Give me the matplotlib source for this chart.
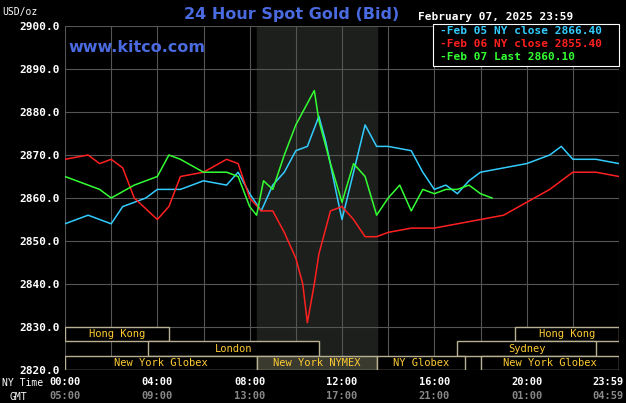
import matplotlib
matplotlib.use('Agg')
import matplotlib.pyplot as plt
from matplotlib.patches import Rectangle

# hours since 00:00 NY time, price
blue_t = [0,1,2,2.5,3.5,4,5,6,7,7.5,8,8.5,9,9.5,10,10.5,11,11.3,11.8,12,12.5,13,13.5,14,15,15.5,16,16.5,17,17.5,18,19,20,21,21.5,22,23,24]
blue_v = [2854,2856,2854,2858,2860,2862,2862,2864,2863,2866,2861,2857,2863,2866,2871,2872,2879,2873,2860,2855,2866,2877,2872,2872,2871,2866,2862,2863,2861,2864,2866,2867,2868,2870,2872,2869,2869,2868]
red_t = [0,1,1.5,2,2.5,3,4,4.5,5,6,7,7.5,8,8.5,9,9.5,10,10.3,10.5,10.8,11,11.5,12,12.5,13,13.5,14,15,16,17,18,19,20,21,22,23,24]
red_v = [2869,2870,2868,2869,2867,2860,2855,2858,2865,2866,2869,2868,2860,2857,2857,2852,2846,2840,2831,2840,2847,2857,2858,2855,2851,2851,2852,2853,2853,2854,2855,2856,2859,2862,2866,2866,2865]
green_t = [0,1,1.5,2,3,4,4.5,5,6,7,7.5,8,8.3,8.6,9,9.5,10,10.5,10.8,11,11.5,12,12.5,13,13.5,14,14.5,15,15.5,16,16.5,17,17.5,18,18.5]
green_v = [2865,2863,2862,2860,2863,2865,2870,2869,2866,2866,2865,2858,2856,2864,2862,2870,2877,2882,2885,2878,2868,2859,2868,2865,2856,2860,2863,2857,2862,2861,2862,2862,2863,2861,2860]

labels = ['Feb 05 NY close 2866.40', 'Feb 06 NY close 2855.40', 'Feb 07 Last 2860.10']
colors = ['#33ccff', '#ff2020', '#33ff33']

# sessions: (name, start, end, row)
sessions = [('Hong Kong',0,4.5,2),('Hong Kong',19.5,24,2),('London',3.6,11,1),('Sydney',17,23,1),
            ('New York Globex',0,8.33,0),('New York NYMEX',8.33,13.5,0),('NY Globex',13.5,17.35,0),('New York Globex',18,24,0)]

mono = 'DejaVu Sans Mono'
fig = plt.figure(figsize=(6.26,4.03), dpi=100, facecolor='black')
ax = fig.add_axes([65/626, 1-370/403, 554/626, 344/403], facecolor='black')
ax.set_xlim(0,24)
ax.set_ylim(2820,2900)
ax.axvspan(8.33,13.5, color='#1c1f1c', zorder=0)
for y in range(2820,2901,10):
    ax.axhline(y, color='#555555', lw=0.8, zorder=1)
for x in range(0,25,2):
    ax.axvline(x, color='#555555', lw=0.8, zorder=1)

for t,v,c in [(blue_t,blue_v,colors[0]),(red_t,red_v,colors[1]),(green_t,green_v,colors[2])]:
    ax.plot(t, v, color=c, lw=1.1, zorder=3)

rh = 10/3
for name,s,e,row in sessions:
    y0 = 2820 + row*rh
    fc = '#3a3a2e' if name=='New York NYMEX' else 'black'
    ax.add_patch(Rectangle((s,y0), e-s, rh, fc=fc, ec='#b8b090', lw=1, zorder=4))
    ax.text((s+e)/2, y0+rh/2, name, color='#ffcc33', fontsize=7.5, family=mono, ha='center', va='center', zorder=5)

ax.set_yticks(range(2820,2901,10))
ax.set_yticklabels([f'{y}.0' for y in range(2820,2901,10)], family=mono, fontsize=8, color='white', fontweight='bold')
ax.set_xticks([])
ax.tick_params(length=0)
for s in ax.spines.values():
    s.set_visible(False)

ny = ['00:00','04:00','08:00','12:00','16:00','20:00','23:59']
gmt = ['05:00','09:00','13:00','17:00','21:00','01:00','04:59']
for i,(a,b) in enumerate(zip(ny,gmt)):
    x = (65 + i*4*23.08)/626
    ha = 'center'
    if i == 6:
        x, ha = 624/626, 'right'
    fig.text(x, 1-382/403, a, color='white', family=mono, fontsize=7.5, fontweight='bold', ha=ha, va='center')
    fig.text(x, 1-396/403, b, color='#888888', family=mono, fontsize=7.5, fontweight='bold', ha=ha, va='center')
fig.text(2/626, 1-383/403, 'NY Time', color='white', family=mono, fontsize=7, va='center')
fig.text(10/626, 1-397/403, 'GMT', color='white', family=mono, fontsize=7, va='center')

fig.text(2/626, 1-12/403, 'USD/oz', color='white', family=mono, fontsize=7, va='center')
fig.text(292/626, 1-14/403, '24 Hour Spot Gold (Bid)', color='#4a6ae0', fontsize=11.5, fontweight='bold', ha='center', va='center')
fig.text(418/626, 1-17/403, 'February 07, 2025 23:59', color='white', family=mono, fontsize=8, fontweight='bold', va='center')
fig.text(68/626, 1-47/403, 'www.kitco.com', color='#4a6ae0', fontsize=11.5, fontweight='bold', va='center')

fig.patches.append(Rectangle((433/626, 1-66/403), 186/626, 42/403, transform=fig.transFigure, fc='black', ec='white', lw=0.8))
for i,(l,c) in enumerate(zip(labels,colors)):
    fig.text(440/626, 1-(31+i*13)/403, '-' + l, color=c, family=mono, fontsize=8, fontweight='bold', va='center')

fig.savefig('out.png', dpi=100, facecolor='black')
